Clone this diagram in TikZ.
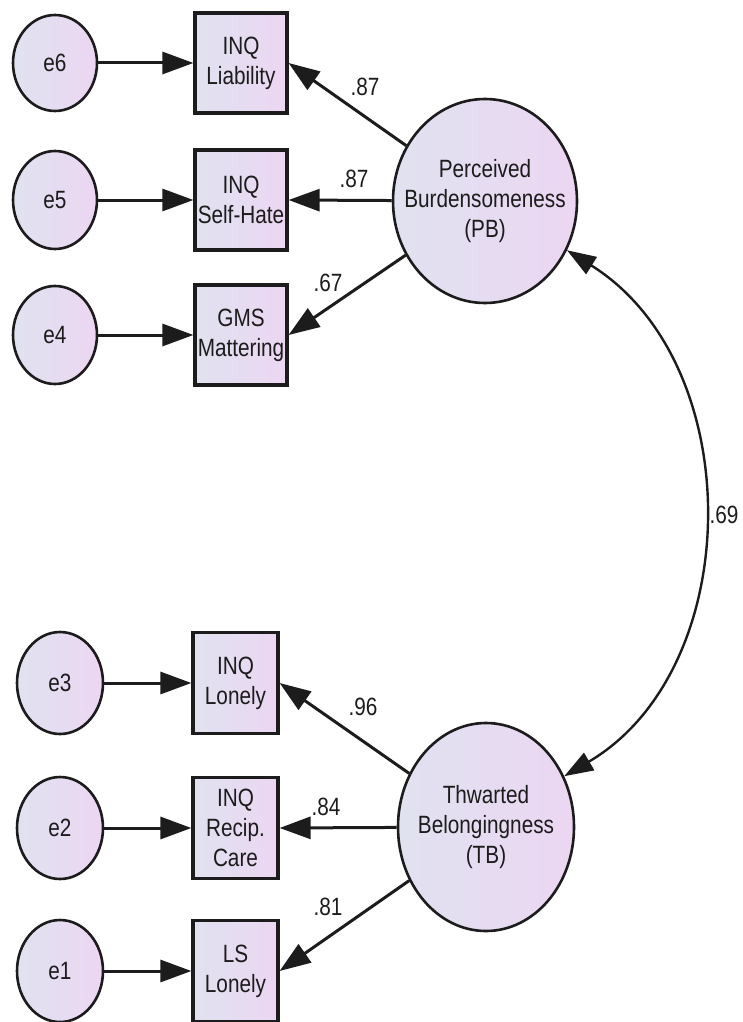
\documentclass[tikz,border=0pt]{standalone}
\usepackage{fontspec}
\setmainfont[FakeStretch=0.83]{Liberation Sans}
\usetikzlibrary{shapes.geometric,arrows.meta}

\definecolor{fillL}{RGB}{224,226,240}
\definecolor{fillR}{RGB}{236,214,242}
\definecolor{ink}{RGB}{28,28,28}

\begin{document}
\begin{tikzpicture}[x=1pt,y=-1pt,
  txt/.style={font=\fontsize{25}{30}\selectfont, text=ink, align=center},
  shade/.style={left color=fillL, right color=fillR},
  err/.style={ellipse, draw=ink, line width=2.6pt, shade, inner sep=0pt, txt},
  obs/.style={rectangle, draw=ink, line width=3.2pt, shade, inner sep=0pt, txt},
  lat/.style={ellipse, draw=ink, line width=2.6pt, shade, inner xsep=-40pt, inner ysep=0pt, txt},
  arr/.style={draw=ink, line width=3pt, -{Triangle[length=31pt,width=22pt]}},
  cov/.style={draw=ink, line width=2.4pt, {Triangle[length=29pt,width=20pt]}-{Triangle[length=29pt,width=20pt]}},
  coef/.style={txt, inner sep=0pt}
]
\useasboundingbox (0,0) rectangle (743,1022);

% Perceived burdensomeness block
\node[err, minimum width=84pt, minimum height=96pt] (e6) at (55,63) {e6};
\node[err, minimum width=84pt, minimum height=98pt] (e5) at (55,200) {e5};
\node[err, minimum width=84pt, minimum height=98pt] (e4) at (55,335) {e4};

\node[obs, minimum width=92pt, minimum height=100pt] (b6) at (241,63) {INQ\\Liability};
\node[obs, minimum width=92pt, minimum height=100pt] (b5) at (241,200) {INQ\\Self-Hate};
\node[obs, minimum width=92pt, minimum height=100pt] (b4) at (241,335) {GMS\\Mattering};

\node[lat, minimum width=184pt, minimum height=204pt] (PB) at (485,201)
  {Perceived\\Burdensomeness\\(PB)};

% Thwarted belongingness block
\node[err, minimum width=86pt, minimum height=102pt] (e3) at (60,683) {e3};
\node[err, minimum width=86pt, minimum height=102pt] (e2) at (60,828) {e2};
\node[err, minimum width=86pt, minimum height=102pt] (e1) at (60,971) {e1};

\node[obs, minimum width=85pt, minimum height=101pt] (b3) at (235.5,683) {INQ\\Lonely};
\node[obs, minimum width=85pt, minimum height=101pt] (b2) at (235.5,828) {INQ\\Recip.\\Care};
\node[obs, minimum width=85pt, minimum height=101pt] (b1) at (235.5,971) {LS\\Lonely};

\node[lat, minimum width=176pt, minimum height=208pt] (TB) at (486,827)
  {Thwarted\\Belongingness\\(TB)};

% Error terms to indicators
\foreach \i in {1,...,6} \draw[arr] (e\i) -- (b\i);

% Loadings
\draw[arr] (PB) -- (b6.east);
\draw[arr] (PB) -- (b5.east);
\draw[arr] (PB) -- (b4.east);
\draw[arr] (TB) -- (b3.east);
\draw[arr] (TB) -- (b2.east);
\draw[arr] (TB) -- (b1.east);

\node[coef] (l6) at (365,87) {.87};
\node[coef] (l5) at (354,179) {.87};
\node[coef] (l4) at (328,283) {.67};
\node[coef] (l3) at (363,707) {.96};
\node[coef] (l2) at (326,807) {.84};
\node[coef] (l1) at (328,907) {.81};

% Factor covariance
\draw[cov] (PB.-31) .. controls (749,364) and (746,669) .. (TB.33);
\node[coef] (l69) at (724,515) {.69};
\end{tikzpicture}
\end{document}
